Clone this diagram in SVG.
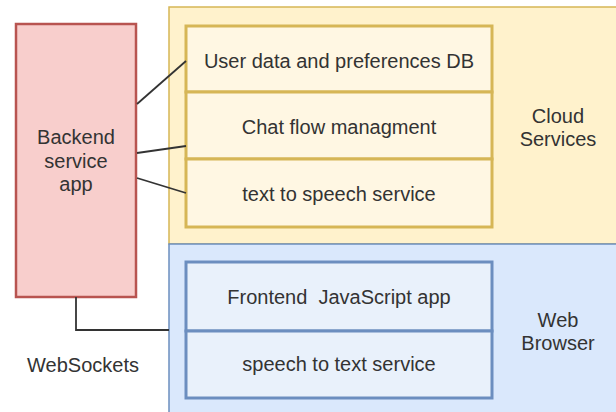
<svg xmlns="http://www.w3.org/2000/svg" width="616" height="412" viewBox="0 0 616 412">
<style>
text{font-family:"Liberation Sans",Arial,sans-serif;font-size:20px;fill:#333;text-anchor:middle}
.cloud{fill:#fff2cc;stroke:#d6b656;stroke-width:1.5}
.web{fill:#dae8fc;stroke:#6c8ebf;stroke-width:1.5}
.cbox{fill:#fff7e3;stroke:#d6b656;stroke-width:3}
.wbox{fill:#e9f1fb;stroke:#6c8ebf;stroke-width:3}
.conn{fill:none;stroke:#333;stroke-width:1.8}
</style>
<rect width="616" height="412" fill="#fff"/>
<g id="cloud-services">
<rect class="cloud" x="169" y="7" width="460" height="237"/>
<text x="558" y="123">Cloud</text>
<text x="558" y="146">Services</text>
</g>
<g id="web-browser">
<rect class="web" x="169" y="244" width="460" height="180"/>
<text x="558" y="327">Web</text>
<text x="558" y="350">Browser</text>
</g>
<g id="user-data-db">
<rect class="cbox" x="186" y="26" width="306" height="66"/>
<text x="339" y="68">User data and preferences DB</text>
</g>
<g id="chat-flow">
<rect class="cbox" x="186" y="92" width="306" height="67"/>
<text x="339" y="134">Chat flow managment</text>
</g>
<g id="tts">
<rect class="cbox" x="186" y="159" width="306" height="68"/>
<text x="339" y="201">text to speech service</text>
</g>
<g id="frontend">
<rect class="wbox" x="186" y="262" width="306" height="69"/>
<text x="339" y="304" xml:space="preserve">Frontend  JavaScript app</text>
</g>
<g id="stt">
<rect class="wbox" x="186" y="331" width="306" height="67"/>
<text x="339" y="371">speech to text service</text>
</g>
<g id="backend">
<rect x="16" y="24" width="120" height="273" fill="#f8cecc" stroke="#b85450" stroke-width="2.5"/>
<text x="76" y="144">Backend</text>
<text x="76" y="168">service</text>
<text x="76" y="191">app</text>
</g>
<g id="connectors">
<line class="conn" x1="137" y1="104" x2="186" y2="61"/>
<line class="conn" x1="137" y1="153" x2="186" y2="146"/>
<line class="conn" x1="137" y1="178" x2="186" y2="193"/>
<polyline class="conn" points="76,297 76,330 169,330"/>
</g>
<g id="websockets-label">
<text x="83" y="372">WebSockets</text>
</g>
</svg>
